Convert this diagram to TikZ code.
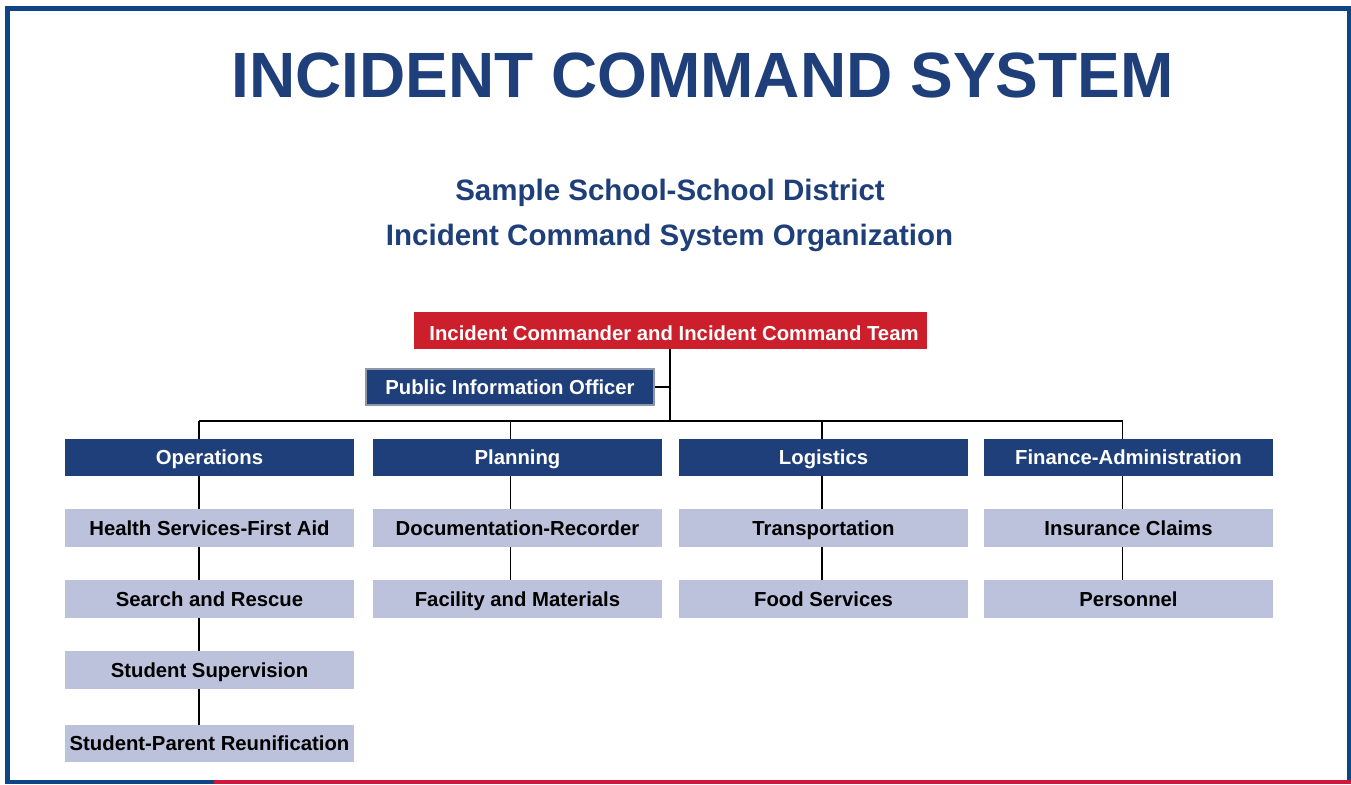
\documentclass[tikz,border=0pt]{standalone}
\usepackage{fontspec}
\setmainfont{Liberation Sans}
\definecolor{icsblue}{HTML}{1F3F7A}
\definecolor{framblue}{HTML}{0E4585}
\definecolor{framred}{HTML}{D2173F}
\definecolor{icsred}{HTML}{CC1F2B}
\definecolor{icslav}{HTML}{BCC2DB}
\definecolor{piogray}{HTML}{8E97A8}
\newcommand{\boxfont}{\fontsize{20.3}{24}\bfseries\selectfont}
\begin{document}
\begin{tikzpicture}[x=1pt,y=-1pt]
                \tikzstyle{cbox}=[inner sep=0pt, minimum width=289pt, minimum height=37.5pt, text height=14.6pt, text depth=0pt, font=\boxfont]
                \tikzstyle{dept}=[cbox, fill=icsblue, text=white]
                \tikzstyle{unit}=[cbox, fill=icslav, text=black]
                \tikzstyle{link}=[black, line width=1.3pt]

                \useasboundingbox (0,0) rectangle (1351,784);
                \fill[white] (0,0) rectangle (1351,784);

                % frame
                \draw[framblue, line width=5pt] (7.5,780) -- (7.5,8.5) -- (1349.5,8.5) -- (1349.5,780);
                \draw[framblue, line width=4pt] (5,782) -- (214,782);
                \draw[framred, line width=4pt] (214,782) -- (1351,782);

                % titles
                \node[text=icsblue, inner sep=0pt, text height=45.8pt, text depth=0pt, font=\fontsize{64}{70}\bfseries\selectfont] (title) at (702.5,75) {INCIDENT COMMAND SYSTEM};
                \node[text=icsblue, inner sep=0pt, text height=21.1pt, text depth=0pt, font=\fontsize{29.5}{34}\bfseries\selectfont] (sub1) at (670,190) {Sample School-School District};
                \node[text=icsblue, inner sep=0pt, text height=21.1pt, text depth=0pt, font=\fontsize{29.5}{34}\bfseries\selectfont] (sub2) at (669.5,235) {Incident Command System Organization};

                % command
                \node[cbox, fill=icsred, text=white, minimum width=513pt, minimum height=37pt] (ic) at (670.5,330.5) {\raisebox{-2.5pt}{\hspace*{7pt}Incident Commander and Incident Command Team}};
                \node[cbox, fill=icsblue, text=white, draw=piogray, line width=2pt, minimum width=288pt, minimum height=36pt] (pio) at (510,387) {Public Information Officer};

                % sections
                \node[dept] (ops) at (209.5,457.5) {Operations};
                \node[dept] (plan) at (517.5,457.5) {Planning};
                \node[dept] (log) at (823.5,457.5) {Logistics};
                \node[dept] (fin) at (1128.5,457.5) {Finance-Administration};

                % units
                \node[unit] (hs) at (209.5,527.8) {Health Services-First Aid};
                \node[unit] (sr) at (209.5,598.8) {Search and Rescue};
                \node[unit] (ss) at (209.5,669.8) {Student Supervision};
                \node[unit] (spr) at (209.5,743.5) {Student-Parent Reunification};
                \node[unit] (doc) at (517.5,527.8) {Documentation-Recorder};
                \node[unit] (fac) at (517.5,598.8) {Facility and Materials};
                \node[unit] (tr) at (823.5,527.8) {Transportation};
                \node[unit] (food) at (823.5,598.8) {Food Services};
                \node[unit] (ins) at (1128.5,527.8) {Insurance Claims};
                \node[unit] (pers) at (1128.5,598.8) {Personnel};

                % lines
                \coordinate (m) at (670,421);
                \coordinate (o) at (199,421);
                \coordinate (p) at (510.5,421);
                \coordinate (l) at (822,421);
                \coordinate (f) at (1122.5,421);
                \draw[link] (m |- ic.south) -- (m);
                \draw[link] (pio.east) -- (pio.east -| m);
                \draw[link] (o) -- (f);
                \draw[link] (o) -- (o |- ops.north);
                \draw[link] (p) -- (p |- plan.north);
                \draw[link] (l) -- (l |- log.north);
                \draw[link] (f) -- (f |- fin.north);
                \draw[link] (o |- ops.south) -- (o |- hs.north);
                \draw[link] (o |- hs.south) -- (o |- sr.north);
                \draw[link] (o |- sr.south) -- (o |- ss.north);
                \draw[link] (o |- ss.south) -- (o |- spr.north);
                \draw[link] (p |- plan.south) -- (p |- doc.north);
                \draw[link] (p |- doc.south) -- (p |- fac.north);
                \draw[link] (l |- log.south) -- (l |- tr.north);
                \draw[link] (l |- tr.south) -- (l |- food.north);
                \draw[link] (f |- fin.south) -- (f |- ins.north);
                \draw[link] (f |- ins.south) -- (f |- pers.north);
            \end{tikzpicture}
\end{document}
